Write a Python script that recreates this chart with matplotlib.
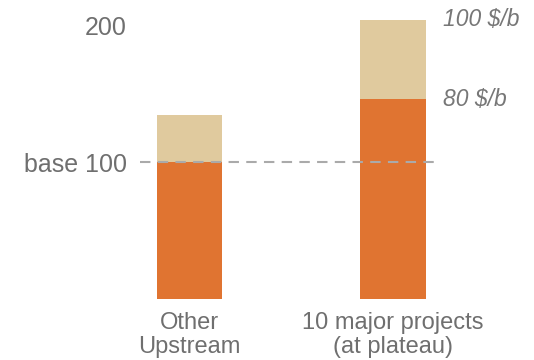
import matplotlib.pyplot as plt

plt.rcParams['font.family'] = ['Liberation Sans', 'DejaVu Sans']

categories = ['Other\nUpstream', '10 major projects\n(at plateau)']
base_values = [100, 146]      # 80 $/b level
extra_values = [34, 58]       # extra up to 100 $/b
ytick_values = [100, 200]
ytick_labels = ['base 100', '200']
price_labels = ['80 $/b', '100 $/b']

orange = '#E07431'
tan = '#E0CA9E'
grey = '#6f6f6f'

fig = plt.figure(figsize=(5.34, 3.6), dpi=100)
ax = fig.add_axes([0.262, 0.1694, 0.562, 0.799])

x = range(len(categories))
ax.bar(x, base_values, width=0.32, color=orange)
ax.bar(x, extra_values, width=0.32, bottom=base_values, color=tan)
ax.axhline(100, color='#aaaaaa', lw=1.5, ls=(0, (5, 3.5)), zorder=3)

# price annotations next to the second bar
top2 = base_values[1] + extra_values[1]
ax.text(1.246, base_values[1], price_labels[0], style='italic', color='#777777',
        fontsize=16.5, va='center', ha='left')
ax.text(1.246, top2, price_labels[1], style='italic', color='#777777',
        fontsize=16.5, va='center', ha='left')

ax.set_xlim(-0.243, 1.231)
ax.set_ylim(0, 210)
ax.set_xticks(list(x))
ax.set_xticklabels(categories, fontsize=17, color=grey, linespacing=1.12)
ax.set_yticks(ytick_values)
ax.set_yticklabels(ytick_labels, fontsize=18, color=grey)
ax.tick_params(length=0)
ax.tick_params(axis='y', pad=9.5)
ax.tick_params(axis='x', pad=9)
for s in ax.spines.values():
    s.set_visible(False)

fig.savefig('out.png', dpi=100)
